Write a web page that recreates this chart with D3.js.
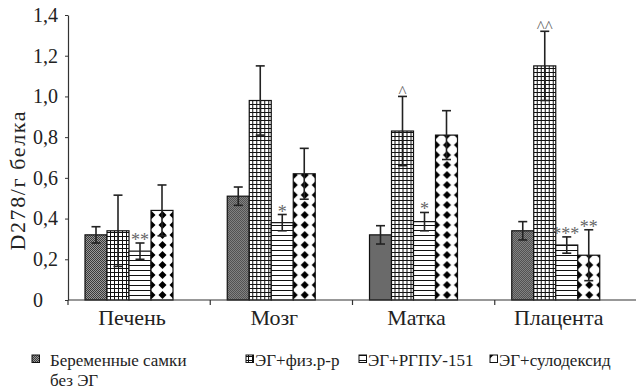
<!DOCTYPE html>
<html>
<head>
<meta charset="utf-8">
<script src="https://cdn.jsdelivr.net/npm/d3@7"></script>
</head>
<body style="margin:0;background:#fff">
<svg width="636" height="392"></svg>
<script>
// данные
var categories = ["Печень", "Мозг", "Матка", "Плацента"];
var seriesNames = ["Беременные самки без ЭГ", "ЭГ+физ.р-р", "ЭГ+РГПУ-151", "ЭГ+сулодексид"];

var controlVals = [0.32, 0.51, 0.32, 0.34];
var salineVals  = [0.34, 0.98, 0.83, 1.15];
var rgpuVals    = [0.24, 0.38, 0.385, 0.27];
var sulodVals   = [0.44, 0.62, 0.81, 0.22];

var controlErr = [0.04, 0.045, 0.045, 0.045];
var salineErr  = [0.175, 0.17, 0.17, 0.17];
var rgpuErr    = [0.04, 0.04, 0.045, 0.04];
var sulodErr   = [0.125, 0.125, 0.12, 0.125];

var controlMarks = ["", "", "", ""];
var salineMarks  = ["", "", "^", "^^"];
var rgpuMarks    = ["**", "*", "*", "***"];
var sulodMarks   = ["", "", "", "**"];

var yTicks = [0, 0.2, 0.4, 0.6, 0.8, 1.0, 1.2, 1.4];

(function () {
  var FONT = "'Liberation Serif'";
  var svg = d3.select("svg");

  var series = [
    { key: "s0", vals: controlVals, err: controlErr, marks: controlMarks },
    { key: "s1", vals: salineVals, err: salineErr, marks: salineMarks },
    { key: "s2", vals: rgpuVals, err: rgpuErr, marks: rgpuMarks },
    { key: "s3", vals: sulodVals, err: sulodErr, marks: sulodMarks }
  ];

  // узоры заливки
  var defs = svg.append("defs");

  var p0 = defs.append("pattern").attr("id", "s0")
    .attr("patternUnits", "userSpaceOnUse").attr("width", 2).attr("height", 2);
  p0.append("rect").attr("width", 2).attr("height", 2).attr("fill", "#9a9a9a");
  p0.append("rect").attr("width", 1).attr("height", 1).attr("fill", "#3a3a3a");
  p0.append("rect").attr("x", 1).attr("y", 1).attr("width", 1).attr("height", 1).attr("fill", "#3a3a3a");

  var p1 = defs.append("pattern").attr("id", "s1")
    .attr("patternUnits", "userSpaceOnUse").attr("width", 4).attr("height", 4);
  p1.append("rect").attr("width", 4).attr("height", 4).attr("fill", "#fff");
  p1.append("rect").attr("width", 1).attr("height", 4).attr("fill", "#111");
  p1.append("rect").attr("width", 4).attr("height", 1).attr("fill", "#111");

  var p2 = defs.append("pattern").attr("id", "s2")
    .attr("patternUnits", "userSpaceOnUse").attr("width", 5).attr("height", 5);
  p2.append("rect").attr("width", 5).attr("height", 5).attr("fill", "#fff");
  p2.append("rect").attr("width", 5).attr("height", 1).attr("fill", "#111");

  var p3 = defs.append("pattern").attr("id", "s3")
    .attr("patternUnits", "userSpaceOnUse").attr("width", 11).attr("height", 10);
  p3.append("rect").attr("width", 11).attr("height", 10).attr("fill", "#fff");
  p3.append("path").attr("d", "M5.5,1 L9.5,5 L5.5,9 L1.5,5 Z").attr("fill", "#000");

  // шкалы
  var y = d3.scaleLinear().domain([0, 1.4]).range([300, 15]);
  var x0 = d3.scaleBand().domain(categories).range([58, 627]);
  var x1 = d3.scaleBand().domain(series.map(function (s) { return s.key; })).range([27, 115]);

  // ось Y
  var fmt = function (d) { return d === 0 ? "0" : d.toFixed(1).replace(".", ","); };
  var yAxis = svg.append("g")
    .attr("transform", "translate(68,0)")
    .call(d3.axisLeft(y).tickValues(yTicks).tickFormat(fmt).tickSize(3).tickSizeOuter(0));
  yAxis.attr("font-family", null);
  yAxis.select(".domain").attr("stroke", "#333").attr("stroke-width", 1.2);
  yAxis.selectAll(".tick line").attr("stroke", "#333");
  yAxis.selectAll(".tick text")
    .attr("x", -35).attr("text-anchor", "start")
    .attr("font-size", 20).style("font-family", FONT).attr("fill", "#222");

  svg.append("text")
    .attr("transform", "translate(25,181) rotate(-90)")
    .attr("text-anchor", "middle")
    .attr("font-size", 22).style("font-family", FONT).attr("fill", "#222")
    .attr("textLength", 139).attr("lengthAdjust", "spacing")
    .text("D278/г белка");

  // столбцы
  var groups = svg.append("g").selectAll("g")
    .data(categories)
    .enter().append("g")
    .attr("transform", function (c) { return "translate(" + x0(c) + ",0)"; });

  groups.each(function (c, ci) {
    var g = d3.select(this);
    series.forEach(function (s) {
      var v = s.vals[ci], e = s.err[ci];
      var bx = x1(s.key), bw = x1.bandwidth();
      g.append("rect")
        .attr("x", bx).attr("y", y(v))
        .attr("width", bw).attr("height", y(0) - y(v))
        .attr("fill", "url(#" + s.key + ")")
        .attr("stroke", "#111").attr("stroke-width", 1.2);

      var cx = bx + bw / 2;
      var eb = g.append("g").attr("stroke", "#222").attr("stroke-width", 1.6);
      eb.append("line").attr("x1", cx).attr("x2", cx).attr("y1", y(v + e)).attr("y2", y(v - e));
      eb.append("line").attr("x1", cx - 4.5).attr("x2", cx + 4.5).attr("y1", y(v + e)).attr("y2", y(v + e));
      eb.append("line").attr("x1", cx - 4.5).attr("x2", cx + 4.5).attr("y1", y(v - e)).attr("y2", y(v - e));

      var m = s.marks[ci];
      if (m) {
        var isStar = m.indexOf("*") >= 0;
        g.append("text")
          .attr("x", cx + (m === "***" ? -1 : 0)).attr("y", y(v + e) + (isStar ? 3 : 1))
          .attr("text-anchor", "middle")
          .attr("font-size", isStar ? 18 : 17)
          .style("font-family", FONT)
          .attr("fill", "#666")
          .text(m);
      }
    });
  });

  // ось X
  svg.append("line")
    .attr("x1", 68).attr("x2", 636).attr("y1", 300).attr("y2", 300)
    .attr("stroke", "#333").attr("stroke-width", 1.2);
  svg.append("g").selectAll("line")
    .data(categories)
    .enter().append("line")
    .attr("x1", function (c) { return x0(c) + 10; })
    .attr("x2", function (c) { return x0(c) + 10; })
    .attr("y1", 300).attr("y2", 305)
    .attr("stroke", "#333").attr("stroke-width", 1.2);
  svg.append("g").selectAll("text")
    .data(categories)
    .enter().append("text")
    .attr("x", function (c) { return x0(c) + 71 + 3; })
    .attr("y", 325)
    .attr("text-anchor", "middle")
    .attr("font-size", 22).style("font-family", FONT).attr("fill", "#222")
    .text(function (c) { return c; });

  // легенда
  var legendX = [32, 246, 359, 490];
  var leg = svg.append("g");
  series.forEach(function (s, i) {
    leg.append("rect")
      .attr("x", legendX[i]).attr("y", 355)
      .attr("width", 7.5).attr("height", 7.5)
      .attr("fill", "url(#" + s.key + ")")
      .attr("stroke", "#111").attr("stroke-width", 1);
    var tx = legendX[i] + (i === 0 ? 18 : 9);
    var lines = i === 0 ? ["Беременные самки", "без ЭГ"] : [seriesNames[i]];
    lines.forEach(function (l, li) {
      leg.append("text")
        .attr("x", tx).attr("y", 366 + li * 19.5)
        .attr("font-size", 17).style("font-family", FONT).attr("fill", "#222")
        .text(l);
    });
  });
})();
</script>
</body>
</html>
